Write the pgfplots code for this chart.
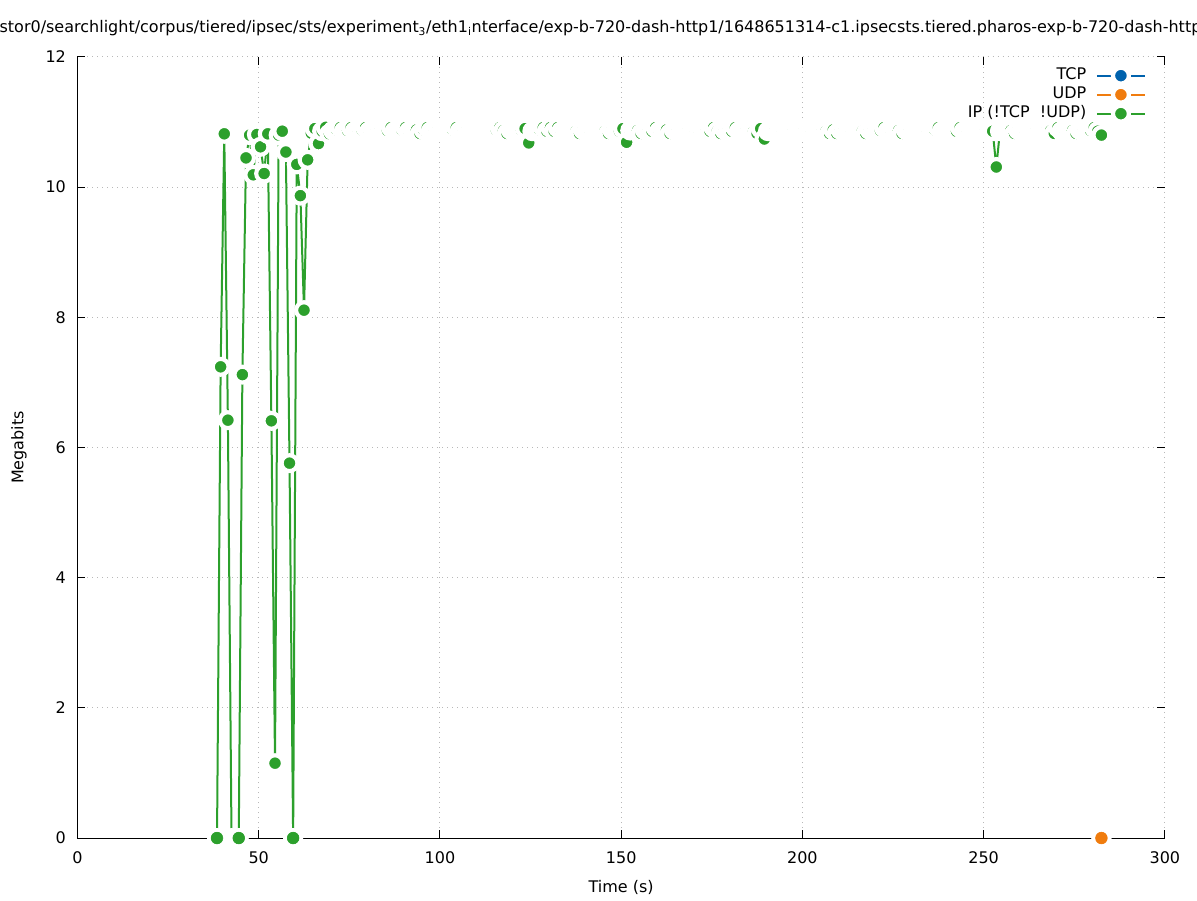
\documentclass[12pt,border=0pt]{standalone}
\usepackage{fontspec}
\setmainfont{DejaVu Sans}
\usepackage{pgfplots}
\usepackage{pgfplotstable}
\pgfplotsset{compat=1.18}
\definecolor{tcpblue}{HTML}{0062AD}
\definecolor{udporange}{HTML}{F07C0E}
\definecolor{ipgreen}{HTML}{2CA02C}
\pgfplotsset{ring/.style={color=#1, line width=1.5pt, mark=*, mark size=5.95pt,
  mark options={draw=white, fill=#1, line width=3.1pt, solid}}}

\pgfplotstableread{
x y
38.5 0
39.5 7.24
40.5 10.82
41.5 6.42
42.5 0
43.5 0
44.5 0
45.5 7.12
46.5 10.45
47.5 10.80
48.5 10.19
49.5 10.81
50.5 10.62
51.5 10.21
52.5 10.82
53.5 6.41
54.5 1.15
55.5 10.80
56.5 10.86
57.5 10.54
58.5 5.76
59.5 0
60.5 10.35
61.5 9.87
62.5 8.11
63.5 10.42
64.5 10.83
65.5 10.90
66.5 10.67
67.5 10.86
68.5 10.92
69.5 10.82
70.5 10.87
71.5 10.88
72.5 10.915
73.5 10.86
74.5 10.87
75.5 10.915
76.5 10.86
77.5 10.87
78.5 10.88
79.5 10.915
80.5 10.86
81.5 10.87
82.5 10.88
83.5 10.87
84.5 10.86
85.5 10.87
86.5 10.915
87.5 10.86
88.5 10.87
89.5 10.88
90.5 10.915
91.5 10.86
92.5 10.87
93.5 10.88
94.5 10.825
95.5 10.88
96.5 10.915
97.5 10.86
98.5 10.87
99.5 10.88
100.5 10.87
101.5 10.86
102.5 10.87
103.5 10.88
104.5 10.915
105.5 10.86
106.5 10.87
107.5 10.88
108.5 10.87
109.5 10.86
110.5 10.87
111.5 10.88
112.5 10.87
113.5 10.86
114.5 10.87
115.5 10.88
116.5 10.915
117.5 10.87
118.5 10.825
119.5 10.88
120.5 10.87
121.5 10.86
122.5 10.87
123.5 10.90
124.5 10.68
125.5 10.86
126.5 10.87
127.5 10.88
128.5 10.915
129.5 10.86
130.5 10.915
131.5 10.86
132.5 10.915
133.5 10.86
134.5 10.87
135.5 10.88
136.5 10.87
137.5 10.86
138.5 10.825
139.5 10.88
140.5 10.87
141.5 10.86
142.5 10.87
143.5 10.88
144.5 10.87
145.5 10.86
146.5 10.825
147.5 10.88
148.5 10.87
149.5 10.86
150.5 10.90
151.5 10.69
152.5 10.87
153.5 10.88
154.5 10.87
155.5 10.825
156.5 10.88
157.5 10.87
158.5 10.86
159.5 10.915
160.5 10.86
161.5 10.87
162.5 10.88
163.5 10.825
164.5 10.88
165.5 10.87
166.5 10.86
167.5 10.87
168.5 10.88
169.5 10.87
170.5 10.86
171.5 10.87
172.5 10.88
173.5 10.87
174.5 10.86
175.5 10.915
176.5 10.86
177.5 10.825
178.5 10.88
179.5 10.87
180.5 10.86
181.5 10.915
182.5 10.86
183.5 10.87
184.5 10.88
185.5 10.87
186.5 10.86
187.5 10.825
188.5 10.90
189.5 10.74
190.5 10.86
191.5 10.87
192.5 10.88
193.5 10.87
194.5 10.86
195.5 10.87
196.5 10.88
197.5 10.87
198.5 10.86
199.5 10.87
200.5 10.88
201.5 10.87
202.5 10.86
203.5 10.87
204.5 10.88
205.5 10.87
206.5 10.86
207.5 10.825
208.5 10.88
209.5 10.825
210.5 10.88
211.5 10.87
212.5 10.86
213.5 10.87
214.5 10.88
215.5 10.87
216.5 10.86
217.5 10.825
218.5 10.88
219.5 10.87
220.5 10.86
221.5 10.87
222.5 10.915
223.5 10.86
224.5 10.87
225.5 10.88
226.5 10.87
227.5 10.825
228.5 10.88
229.5 10.87
230.5 10.86
231.5 10.87
232.5 10.88
233.5 10.87
234.5 10.86
235.5 10.87
236.5 10.88
237.5 10.915
238.5 10.86
239.5 10.87
240.5 10.88
241.5 10.87
242.5 10.86
243.5 10.915
244.5 10.86
245.5 10.87
246.5 10.88
247.5 10.87
248.5 10.86
249.5 10.87
250.5 10.88
251.5 10.87
252.5 10.86
253.5 10.31
254.5 10.86
255.5 10.87
256.5 10.88
257.5 10.87
258.5 10.825
259.5 10.88
260.5 10.87
261.5 10.86
262.5 10.87
263.5 10.88
264.5 10.87
265.5 10.86
266.5 10.87
267.5 10.88
268.5 10.87
269.5 10.825
270.5 10.915
271.5 10.86
272.5 10.87
273.5 10.88
274.5 10.87
275.5 10.825
276.5 10.88
277.5 10.87
278.5 10.86
279.5 10.87
280.5 10.915
281.5 10.86
282.5 10.80
}\ipdata

\begin{document}
\begin{tikzpicture}
\begin{axis}[
  scale only axis, width=815.5pt, height=585.75pt,
  xmin=0, xmax=300, ymin=0, ymax=12,
  xtick={0,50,...,300}, ytick={0,2,...,12},
  tick align=inside, major tick length=6pt,
  tick style={black, line width=0.75pt},
  axis line style={draw=none},
  grid=major,
  grid style={black!28, line width=0.75pt, dash pattern=on 0.75pt off 3pt},
  /pgf/number format/assume math mode=true,
  xticklabel style={yshift=-5.75pt},
  yticklabel style={xshift=-4.5pt},
  xlabel={Time (s)}, ylabel={Megabits},
  every axis x label/.style={at={([yshift=-40.5pt]axis description cs:0.5,0)}, anchor=base},
  every axis y label/.style={at={([xshift=-40.5pt]axis description cs:0,0.5)}, anchor=base, rotate=90},
  clip=false,
  legend style={draw=none, fill=none, at={([xshift=-14pt,yshift=-6.8pt]axis description cs:1,1)},
    anchor=north east, inner sep=0pt, row sep=0.25pt, column sep=6.25pt,
    nodes={text height=9pt, text depth=3pt, inner sep=1pt}},
  legend cell align=right, legend plot pos=right,
  legend image code/.code={\draw[mark repeat=2,mark phase=2,#1] plot coordinates {(0pt,0pt) (18pt,0pt) (36pt,0pt)};},
]
\addplot[ring=tcpblue] coordinates {(282.5,0)};
\addlegendentry{TCP}
\addplot[ring=udporange] coordinates {(282.5,0)};
\addlegendentry{UDP}
\addplot[ring=ipgreen] table[x=x,y=y] {\ipdata};
\addlegendentry{IP (!TCP\ \ !UDP)}
\draw[black, line width=0.75pt] (rel axis cs:0,1) -- (rel axis cs:0,0) -- (rel axis cs:1,0);
\addplot[only marks, mark=*, mark size=4.4pt, color=ipgreen, mark options={draw=none}, forget plot]
  coordinates {(38.5,0) (44.5,0) (59.5,0)};
\addplot[only marks, mark=*, mark size=4.4pt, color=udporange, mark options={draw=none}, forget plot]
  coordinates {(282.5,0)};
\end{axis}
\node[anchor=base west, inner sep=0pt] at (-58.6pt,603.75pt)
  {\llap{/mnt/}stor0/searchlight/corpus/tiered/ipsec/sts/experiment\textsubscript{3}/eth1\textsubscript{i}nterface/exp-b-720-dash-http1/1648651314-c1.ipsecsts.tiered.pharos-exp-b-720-dash-http\rlap{1}};
\pgfresetboundingbox
\path[use as bounding box] (-58.1pt,-46.5pt) rectangle (839.6pt,628.5pt);
\end{tikzpicture}
\end{document}
